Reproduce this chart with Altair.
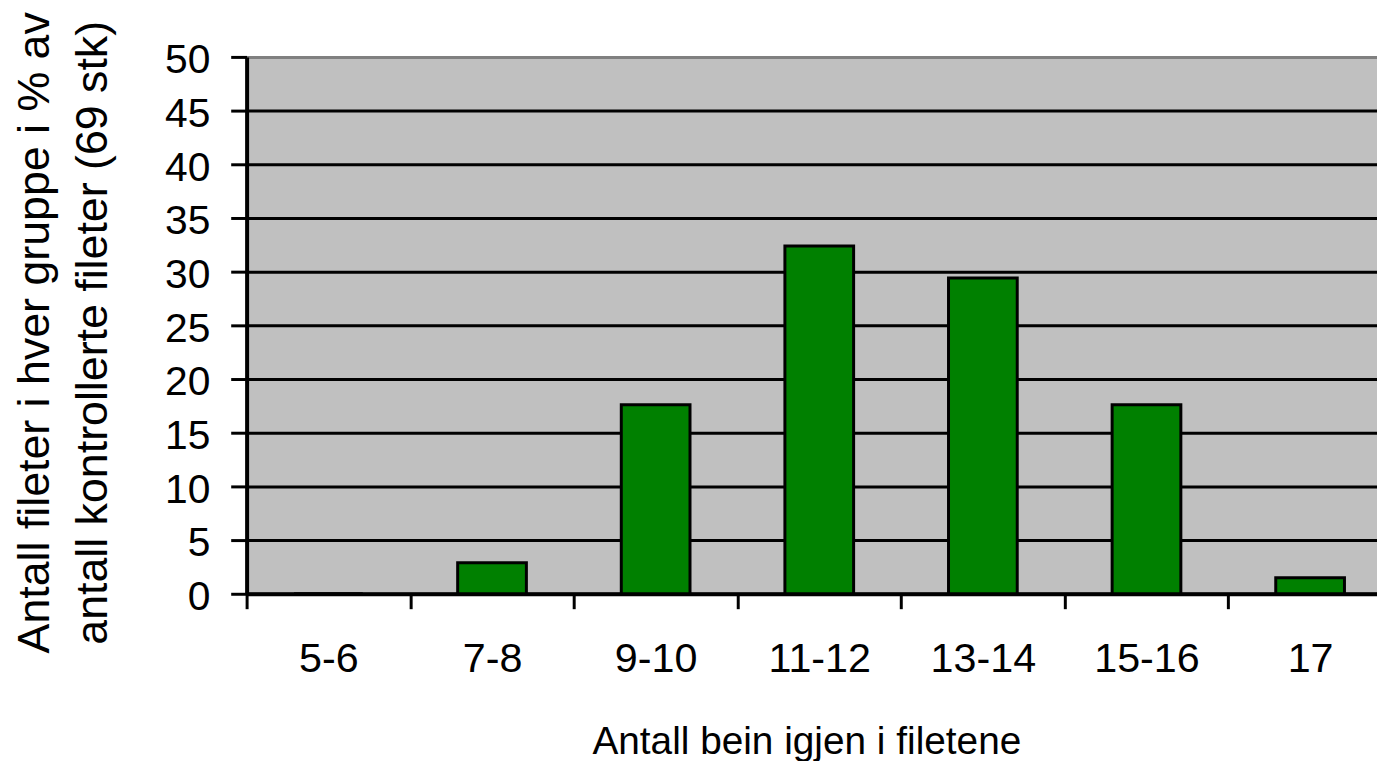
import altair as alt
import pandas as pd

categories = ["5-6", "7-8", "9-10", "11-12", "13-14", "15-16", "17"]
values = [0, 2.9, 17.6, 32.4, 29.4, 17.6, 1.5]
y_ticks = list(range(0, 51, 5))

df = pd.DataFrame({"group": categories, "pct": values})

FONT = "Liberation Sans"

bars = alt.Chart(df).mark_bar(
    color="#008000", stroke="black", strokeWidth=3, width={"band": 0.42}
).encode(
    x=alt.X(
        "group:N",
        sort=categories,
        scale=alt.Scale(paddingInner=0, paddingOuter=0, range=[0, 1152]),
        axis=alt.Axis(
            title="Antall bein igjen i filetene",
            titleFont=FONT, titleFontSize=39, titleFontWeight="normal", titleColor="black",
            titleX=563, titleY=161, titleBaseline="alphabetic", titleAlign="center",
            labelFont=FONT, labelFontSize=41.5, labelColor="black", labelAngle=0,
            labelBaseline="alphabetic", labelPadding=63,
            tickBand="extent", tickSize=15, tickWidth=3, tickColor="black",
            domainColor="black", domainWidth=4, grid=False,
        ),
    ),
    y=alt.Y(
        "pct:Q",
        scale=alt.Scale(domain=[0, 50], nice=False),
        axis=alt.Axis(
            title=["Antall fileter i hver gruppe i % av", "antall kontrollerte fileter (69 stk)"],
            titleFont=FONT, titleFontSize=45, titleFontWeight="normal", titleColor="black",
            titleAngle=270, titleX=-199, titleY=277, titleBaseline="alphabetic",
            titleAlign="center", titleLineHeight=58,
            values=y_ticks,
            labelFont=FONT, labelFontSize=41, labelColor="black", labelPadding=21,
            labelOffset=4,
            tickSize=16, tickWidth=3, tickColor="black",
            domainColor="black", domainWidth=4,
            grid=True, gridWidth=3,
            gridColor={"condition": {"test": "datum.value == 50", "value": "#808080"}, "value": "black"},
        ),
    ),
)

chart = bars.properties(
    width=1137,
    height=540,
    autosize=alt.AutoSizeParams(type="none"),
    padding={"left": 240, "top": 47, "right": 0, "bottom": 166},
).configure_view(fill="#C0C0C0", strokeWidth=0)

chart.save("out.html", embed_options={"renderer": "svg", "actions": False})
